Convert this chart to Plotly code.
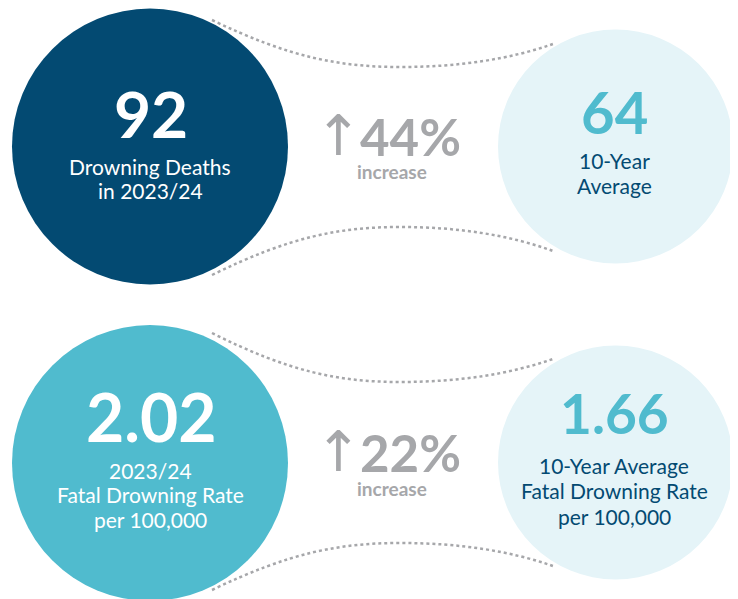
"""
    Drowning statistics infographic
"""

import plotly.graph_objs as go

# values shown in the graphic
current_values = ["92", "2.02"]
average_values = ["64", "1.66"]
increases = ["44%", "22%"]
current_labels = [["Drowning Deaths", "in 2023/24"],
                  ["2023/24", "Fatal Drowning Rate", "per 100,000"]]
average_labels = [["10-Year", "Average"],
                  ["10-Year Average", "Fatal Drowning Rate", "per 100,000"]]

NAVY = "#034a72"
TEAL = "#50bbce"
LIGHT = "#e5f4f8"
GREY = "#a6a7aa"
FONT = "Lato"
OFFSET = 8  # page body margin


def rows_layout():
    """ Positions of the two rows of circles """
    return [
        {"cy": 146.5, "cy_r": 146.5, "big": (113, 64), "sub_y": 166, "num": (111, 58),
         "avg_sub_y": 160, "inc_y": 136, "incw_y": 171,
         "curves": [(20, 67, 44), (275, 227, 251)]},
        {"cy": 463, "cy_r": 462.5, "big": (416, 66), "sub_y": 470, "num": (413, 55),
         "avg_sub_y": 465, "inc_y": 452, "incw_y": 488,
         "curves": [(333, 382, 359), (590, 543, 566)]},
    ]


def curve_path(y0, ym, y1):
    """ Smooth dotted connector between the two circles """
    d = ym - y0
    return (f"M 212 {y0} C 290 {y0 + d * 0.8}, 340 {ym}, 400 {ym} "
            f"S 510 {ym + (y1 - ym) * 0.35}, 553 {y1}")


def build():
    fig = go.Figure()
    shapes, annotations = [], []
    fills = [NAVY, TEAL]

    for i, row in enumerate(rows_layout()):
        cy, cyr = row["cy"], row["cy_r"]
        for y0, ym, y1 in row["curves"]:
            shapes.append(dict(
                type="path", path=curve_path(y0, ym, y1),
                line=dict(color=GREY, width=2.5, dash="dot"), layer="below"
            ))
        shapes.append(dict(type="circle", x0=12, x1=288, y0=cy - 138, y1=cy + 138,
                           fillcolor=fills[i], line=dict(width=0)))
        shapes.append(dict(type="circle", x0=498, x1=733, y0=cyr - 117, y1=cyr + 117,
                           fillcolor=LIGHT, line=dict(width=0)))

        big_y, big_size = row["big"]
        annotations.append(dict(x=151, y=big_y, text=f"<b>{current_values[i]}</b>",
                                font=dict(family=FONT, size=big_size, color="white")))
        for k, line in enumerate(current_labels[i]):
            annotations.append(dict(x=150, y=row["sub_y"] + 24.5 * k, text=line,
                                    font=dict(family=FONT, size=21, color="white")))

        num_y, num_size = row["num"]
        annotations.append(dict(x=614, y=num_y, text=f"<b>{average_values[i]}</b>",
                                font=dict(family=FONT, size=num_size, color=TEAL)))
        for k, line in enumerate(average_labels[i]):
            annotations.append(dict(x=614, y=row["avg_sub_y"] + 25.5 * k, text=line,
                                    font=dict(family=FONT, size=21, color=NAVY)))

        annotations += [
            dict(x=338, y=row["inc_y"] - 1, text="↑",
                 font=dict(family="DejaVu Sans", size=56, color=GREY)),
            dict(x=410, y=row["inc_y"], text=f"<b>{increases[i]}</b>", height=48,
                 font=dict(family=FONT, size=51, color=GREY)),
            dict(x=392, y=row["incw_y"], text="<b>increase</b>", height=20,
                 font=dict(family=FONT, size=19, color=GREY)),
        ]

    for a in annotations:
        a.update(xref="x", yref="y", showarrow=False, xanchor="center", yanchor="middle")

    fig.update_layout(
        width=738, height=599,
        margin=dict(l=0, r=0, t=0, b=0),
        paper_bgcolor="white", plot_bgcolor="white",
        xaxis=dict(range=[OFFSET, 738 + OFFSET], visible=False, fixedrange=True),
        yaxis=dict(range=[599 + OFFSET, OFFSET], visible=False, fixedrange=True),
        shapes=shapes, annotations=annotations, showlegend=False
    )
    return fig


fig = build()
fig.write_html("out.html")
